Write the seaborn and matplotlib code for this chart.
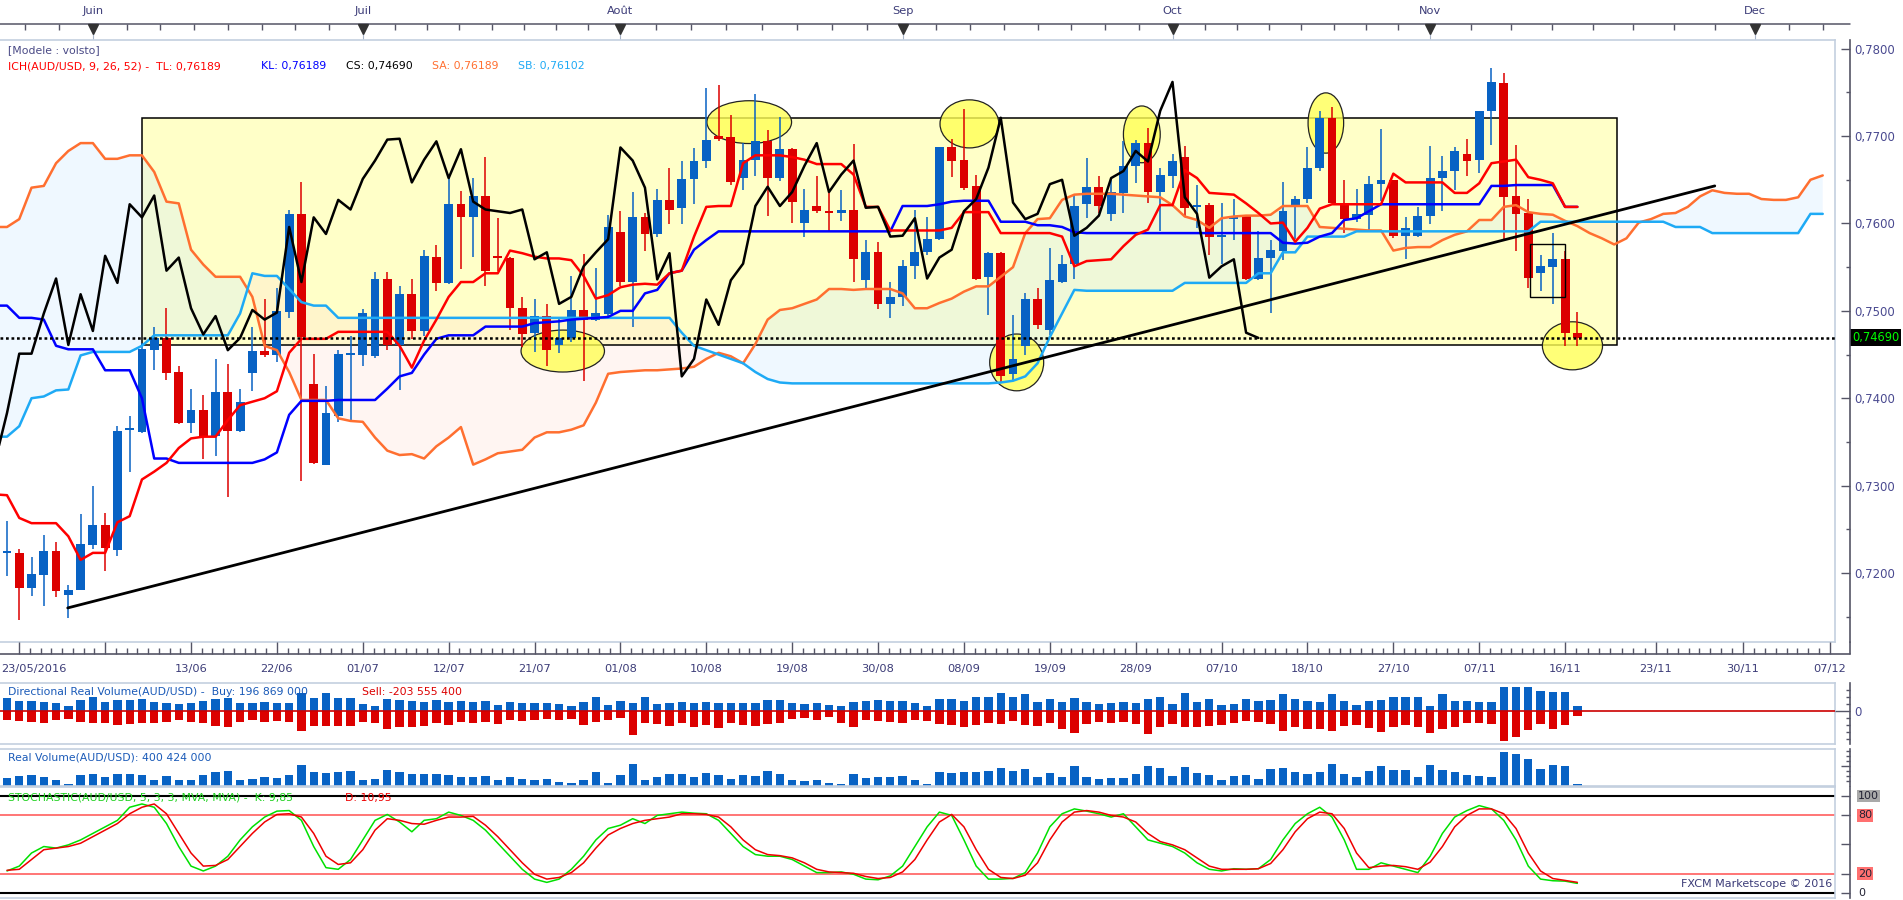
import numpy as np
import pandas as pd
import matplotlib
matplotlib.use("Agg")
import matplotlib.pyplot as plt
import matplotlib.transforms as mtransforms
from matplotlib.patches import Rectangle, Ellipse
import seaborn as sns

#-----------------------------------------------------------
# AUD/USD daily candles 23/05/2016 -> 17/11/2016
open_px = [
    0.7223, 0.7223, 0.7183, 0.7198, 0.7225, 0.7175, 0.7181, 0.7232, 0.7255, 0.7226,
    0.7364, 0.7361, 0.7455, 0.7469, 0.7430, 0.7372, 0.7387, 0.7357, 0.7407, 0.7362,
    0.7429, 0.7454, 0.7449, 0.7499, 0.7611, 0.7416, 0.7324, 0.7380, 0.7450, 0.7450,
    0.7448, 0.7537, 0.7461, 0.7519, 0.7477, 0.7562, 0.7532, 0.7622, 0.7607, 0.7632,
    0.7562, 0.7561, 0.7503, 0.7475, 0.7494, 0.7461, 0.7469, 0.7501, 0.7490, 0.7496,
    0.7590, 0.7533, 0.7607, 0.7588, 0.7627, 0.7618, 0.7651, 0.7671, 0.7700, 0.7699,
    0.7652, 0.7673, 0.7694, 0.7652, 0.7685, 0.7600, 0.7620, 0.7614, 0.7612, 0.7616,
    0.7535, 0.7567, 0.7508, 0.7516, 0.7551, 0.7567, 0.7582, 0.7687, 0.7673, 0.7643,
    0.7539, 0.7566, 0.7428, 0.7460, 0.7514, 0.7478, 0.7533, 0.7554, 0.7622, 0.7642,
    0.7611, 0.7635, 0.7666, 0.7692, 0.7636, 0.7654, 0.7676, 0.7619, 0.7621, 0.7585,
    0.7605, 0.7608, 0.7537, 0.7561, 0.7569, 0.7619, 0.7628, 0.7664, 0.7721, 0.7623,
    0.7605, 0.7610, 0.7645, 0.7650, 0.7586, 0.7586, 0.7608, 0.7652, 0.7660, 0.7680,
    0.7673, 0.7729, 0.7761, 0.7631, 0.7612, 0.7543, 0.7550, 0.7559, 0.7475]
high_px = [
    0.7260, 0.7228, 0.7218, 0.7243, 0.7235, 0.7186, 0.7267, 0.7299, 0.7269, 0.7368,
    0.7380, 0.7463, 0.7482, 0.7503, 0.7437, 0.7410, 0.7404, 0.7445, 0.7439, 0.7410,
    0.7481, 0.7513, 0.7526, 0.7615, 0.7647, 0.7451, 0.7414, 0.7455, 0.7471, 0.7502,
    0.7545, 0.7544, 0.7529, 0.7537, 0.7570, 0.7575, 0.7656, 0.7637, 0.7652, 0.7676,
    0.7606, 0.7562, 0.7516, 0.7513, 0.7508, 0.7492, 0.7540, 0.7565, 0.7549, 0.7610,
    0.7614, 0.7636, 0.7612, 0.7639, 0.7664, 0.7672, 0.7686, 0.7755, 0.7759, 0.7724,
    0.7692, 0.7748, 0.7707, 0.7722, 0.7686, 0.7639, 0.7654, 0.7635, 0.7638, 0.7691,
    0.7581, 0.7579, 0.7533, 0.7558, 0.7615, 0.7607, 0.7687, 0.7697, 0.7731, 0.7656,
    0.7567, 0.7567, 0.7495, 0.7520, 0.7526, 0.7572, 0.7564, 0.7633, 0.7675, 0.7654,
    0.7650, 0.7694, 0.7696, 0.7709, 0.7663, 0.7680, 0.7689, 0.7644, 0.7623, 0.7623,
    0.7628, 0.7609, 0.7591, 0.7581, 0.7648, 0.7631, 0.7688, 0.7729, 0.7733, 0.7650,
    0.7639, 0.7654, 0.7708, 0.7650, 0.7607, 0.7619, 0.7689, 0.7677, 0.7687, 0.7697,
    0.7729, 0.7778, 0.7772, 0.7690, 0.7628, 0.7564, 0.7589, 0.7569, 0.7499]
low_px = [
    0.7196, 0.7146, 0.7174, 0.7162, 0.7173, 0.7149, 0.7181, 0.7228, 0.7202, 0.7219,
    0.7316, 0.7360, 0.7432, 0.7421, 0.7371, 0.7360, 0.7331, 0.7334, 0.7287, 0.7361,
    0.7408, 0.7447, 0.7442, 0.7492, 0.7305, 0.7325, 0.7324, 0.7373, 0.7373, 0.7437,
    0.7446, 0.7455, 0.7409, 0.7468, 0.7471, 0.7523, 0.7531, 0.7548, 0.7562, 0.7528,
    0.7546, 0.7478, 0.7459, 0.7453, 0.7437, 0.7452, 0.7464, 0.7420, 0.7488, 0.7493,
    0.7529, 0.7482, 0.7569, 0.7585, 0.7599, 0.7599, 0.7622, 0.7663, 0.7694, 0.7644,
    0.7638, 0.7654, 0.7609, 0.7649, 0.7600, 0.7585, 0.7612, 0.7590, 0.7603, 0.7533,
    0.7525, 0.7502, 0.7492, 0.7505, 0.7537, 0.7564, 0.7581, 0.7653, 0.7638, 0.7535,
    0.7495, 0.7418, 0.7420, 0.7450, 0.7479, 0.7472, 0.7532, 0.7537, 0.7606, 0.7612,
    0.7603, 0.7612, 0.7646, 0.7624, 0.7591, 0.7641, 0.7609, 0.7595, 0.7564, 0.7554,
    0.7581, 0.7535, 0.7535, 0.7497, 0.7558, 0.7582, 0.7624, 0.7660, 0.7623, 0.7589,
    0.7602, 0.7590, 0.7626, 0.7583, 0.7559, 0.7584, 0.7599, 0.7614, 0.7638, 0.7654,
    0.7658, 0.7690, 0.7581, 0.7569, 0.7526, 0.7523, 0.7508, 0.7460, 0.7460]
close_px = [
    0.7224, 0.7183, 0.7199, 0.7225, 0.7179, 0.7181, 0.7233, 0.7255, 0.7229, 0.7362,
    0.7366, 0.7456, 0.7469, 0.7429, 0.7372, 0.7387, 0.7356, 0.7407, 0.7362, 0.7396,
    0.7454, 0.7449, 0.7500, 0.7611, 0.7470, 0.7326, 0.7383, 0.7451, 0.7451, 0.7497,
    0.7537, 0.7461, 0.7519, 0.7477, 0.7563, 0.7532, 0.7622, 0.7607, 0.7632, 0.7546,
    0.7561, 0.7503, 0.7473, 0.7494, 0.7455, 0.7469, 0.7501, 0.7490, 0.7498, 0.7596,
    0.7533, 0.7607, 0.7588, 0.7627, 0.7616, 0.7651, 0.7672, 0.7696, 0.7697, 0.7647,
    0.7673, 0.7694, 0.7652, 0.7685, 0.7625, 0.7616, 0.7614, 0.7612, 0.7616, 0.7559,
    0.7567, 0.7508, 0.7516, 0.7551, 0.7567, 0.7582, 0.7687, 0.7672, 0.7641, 0.7536,
    0.7566, 0.7425, 0.7445, 0.7513, 0.7484, 0.7535, 0.7554, 0.7620, 0.7642, 0.7620,
    0.7636, 0.7666, 0.7692, 0.7636, 0.7656, 0.7672, 0.7618, 0.7619, 0.7585, 0.7586,
    0.7606, 0.7537, 0.7561, 0.7570, 0.7614, 0.7628, 0.7664, 0.7721, 0.7624, 0.7605,
    0.7611, 0.7645, 0.7650, 0.7586, 0.7595, 0.7609, 0.7652, 0.7660, 0.7683, 0.7671,
    0.7729, 0.7762, 0.7630, 0.7611, 0.7538, 0.7551, 0.7559, 0.7475, 0.7469]

# ichimoku lines, first value is one bar left of 23/05
tenkan = [
    0.7290, 0.7289, 0.7263, 0.7257, 0.7257, 0.7257, 0.7242, 0.7215, 0.7223, 0.7223,
    0.7258, 0.7265, 0.7307, 0.7316, 0.7326, 0.7343, 0.7354, 0.7356, 0.7356, 0.7375,
    0.7392, 0.7396, 0.7400, 0.7408, 0.7452, 0.7468, 0.7468, 0.7468, 0.7476, 0.7476,
    0.7476, 0.7476, 0.7476, 0.7460, 0.7435, 0.7466, 0.7490, 0.7516, 0.7533, 0.7533,
    0.7543, 0.7543, 0.7569, 0.7566, 0.7562, 0.7560, 0.7560, 0.7558, 0.7540, 0.7514,
    0.7518, 0.7527, 0.7530, 0.7531, 0.7530, 0.7543, 0.7546, 0.7585, 0.7619, 0.7620,
    0.7620, 0.7669, 0.7678, 0.7678, 0.7678, 0.7676, 0.7673, 0.7668, 0.7668, 0.7668,
    0.7656, 0.7619, 0.7619, 0.7592, 0.7592, 0.7592, 0.7592, 0.7592, 0.7595, 0.7613,
    0.7613, 0.7613, 0.7589, 0.7589, 0.7589, 0.7589, 0.7589, 0.7585, 0.7551, 0.7557,
    0.7558, 0.7559, 0.7574, 0.7587, 0.7593, 0.7621, 0.7621, 0.7661, 0.7652, 0.7635,
    0.7634, 0.7633, 0.7623, 0.7612, 0.7600, 0.7601, 0.7579, 0.7595, 0.7617, 0.7622,
    0.7622, 0.7622, 0.7622, 0.7622, 0.7657, 0.7647, 0.7647, 0.7647, 0.7647, 0.7635,
    0.7635, 0.7646, 0.7669, 0.7671, 0.7673, 0.7653, 0.7650, 0.7646, 0.7619, 0.7619]
kijun = [
    0.7506, 0.7506, 0.7492, 0.7492, 0.7490, 0.7460, 0.7456, 0.7456, 0.7456, 0.7432,
    0.7432, 0.7432, 0.7400, 0.7331, 0.7331, 0.7326, 0.7326, 0.7326, 0.7326, 0.7326,
    0.7326, 0.7326, 0.7330, 0.7338, 0.7381, 0.7397, 0.7397, 0.7397, 0.7398, 0.7398,
    0.7398, 0.7398, 0.7411, 0.7425, 0.7429, 0.7450, 0.7468, 0.7472, 0.7472, 0.7472,
    0.7482, 0.7482, 0.7482, 0.7482, 0.7486, 0.7487, 0.7488, 0.7490, 0.7491, 0.7492,
    0.7493, 0.7500, 0.7500, 0.7520, 0.7524, 0.7543, 0.7546, 0.7570, 0.7581, 0.7591,
    0.7591, 0.7591, 0.7591, 0.7591, 0.7591, 0.7591, 0.7591, 0.7591, 0.7591, 0.7591,
    0.7591, 0.7591, 0.7591, 0.7591, 0.7620, 0.7620, 0.7620, 0.7622, 0.7625, 0.7626,
    0.7626, 0.7626, 0.7602, 0.7602, 0.7602, 0.7598, 0.7598, 0.7596, 0.7590, 0.7589,
    0.7589, 0.7589, 0.7589, 0.7589, 0.7589, 0.7589, 0.7589, 0.7589, 0.7589, 0.7589,
    0.7589, 0.7589, 0.7589, 0.7589, 0.7589, 0.7578, 0.7577, 0.7578, 0.7585, 0.7589,
    0.7604, 0.7606, 0.7614, 0.7622, 0.7622, 0.7622, 0.7622, 0.7622, 0.7622, 0.7622,
    0.7622, 0.7622, 0.7643, 0.7643, 0.7644, 0.7644, 0.7644, 0.7644, 0.7619, 0.7619]
# the two spans run 20 bars past the last candle
span_a = [
    0.7596, 0.7596, 0.7605, 0.7641, 0.7643, 0.7669, 0.7683, 0.7692, 0.7692, 0.7674,
    0.7674, 0.7678, 0.7678, 0.7659, 0.7625, 0.7623, 0.7570, 0.7553, 0.7539, 0.7539,
    0.7539, 0.7516, 0.7460, 0.7455, 0.7430, 0.7398, 0.7398, 0.7398, 0.7377, 0.7374,
    0.7373, 0.7355, 0.7340, 0.7335, 0.7336, 0.7331, 0.7345, 0.7355, 0.7367, 0.7324,
    0.7330, 0.7337, 0.7339, 0.7341, 0.7355, 0.7361, 0.7361, 0.7364, 0.7369, 0.7395,
    0.7428, 0.7430, 0.7431, 0.7432, 0.7432, 0.7433, 0.7434, 0.7436, 0.7445, 0.7452,
    0.7448, 0.7440, 0.7462, 0.7490, 0.7501, 0.7503, 0.7508, 0.7513, 0.7525, 0.7525,
    0.7524, 0.7525, 0.7525, 0.7525, 0.7520, 0.7503, 0.7503, 0.7509, 0.7514, 0.7522,
    0.7528, 0.7528, 0.7539, 0.7550, 0.7589, 0.7605, 0.7606, 0.7627, 0.7633, 0.7634,
    0.7634, 0.7634, 0.7633, 0.7632, 0.7631, 0.7630, 0.7621, 0.7608, 0.7604, 0.7595,
    0.7606, 0.7608, 0.7609, 0.7609, 0.7610, 0.7620, 0.7620, 0.7620, 0.7596, 0.7595,
    0.7594, 0.7593, 0.7592, 0.7592, 0.7569, 0.7572, 0.7573, 0.7573, 0.7581, 0.7587,
    0.7591, 0.7604, 0.7604, 0.7619, 0.7621, 0.7613, 0.7611, 0.7610, 0.7603, 0.7597,
    0.7589, 0.7583, 0.7576, 0.7583, 0.7601, 0.7605, 0.7611, 0.7612, 0.7619, 0.7631,
    0.7638, 0.7635, 0.7634, 0.7634, 0.7628, 0.7627, 0.7627, 0.7630, 0.7650, 0.7655]
span_b = [
    0.7356, 0.7356, 0.7368, 0.7400, 0.7402, 0.7409, 0.7410, 0.7449, 0.7453, 0.7453,
    0.7453, 0.7453, 0.7460, 0.7472, 0.7472, 0.7472, 0.7472, 0.7472, 0.7472, 0.7472,
    0.7497, 0.7543, 0.7540, 0.7540, 0.7525, 0.7510, 0.7506, 0.7506, 0.7492, 0.7492,
    0.7492, 0.7492, 0.7492, 0.7492, 0.7492, 0.7492, 0.7492, 0.7492, 0.7492, 0.7492,
    0.7492, 0.7492, 0.7492, 0.7492, 0.7492, 0.7492, 0.7492, 0.7492, 0.7492, 0.7492,
    0.7492, 0.7492, 0.7492, 0.7492, 0.7492, 0.7492, 0.7475, 0.7460, 0.7455, 0.7450,
    0.7445, 0.7440, 0.7430, 0.7422, 0.7418, 0.7417, 0.7417, 0.7417, 0.7417, 0.7417,
    0.7417, 0.7417, 0.7417, 0.7417, 0.7417, 0.7417, 0.7417, 0.7417, 0.7417, 0.7417,
    0.7417, 0.7417, 0.7418, 0.7420, 0.7425, 0.7440, 0.7470, 0.7497, 0.7524, 0.7523,
    0.7523, 0.7523, 0.7523, 0.7523, 0.7523, 0.7523, 0.7523, 0.7532, 0.7532, 0.7532,
    0.7532, 0.7532, 0.7532, 0.7543, 0.7543, 0.7567, 0.7567, 0.7585, 0.7585, 0.7585,
    0.7585, 0.7591, 0.7591, 0.7591, 0.7591, 0.7591, 0.7591, 0.7591, 0.7591, 0.7591,
    0.7591, 0.7591, 0.7591, 0.7591, 0.7591, 0.7591, 0.7602, 0.7602, 0.7602, 0.7602,
    0.7602, 0.7602, 0.7602, 0.7602, 0.7602, 0.7602, 0.7602, 0.7596, 0.7596, 0.7596,
    0.7589, 0.7589, 0.7589, 0.7589, 0.7589, 0.7589, 0.7589, 0.7589, 0.7611, 0.7611]

# volume panels, millions
buy_vol = [
    494, 390, 390, 364, 299, 195, 429, 559, 364, 429, 429, 481, 364, 299, 273, 299,
    403, 455, 494, 299, 325, 364, 325, 299, 689, 494, 689, 494, 494, 273, 195, 455,
    429, 403, 351, 429, 351, 403, 351, 403, 234, 351, 325, 299, 325, 273, 195, 351,
    533, 234, 403, 325, 559, 273, 325, 351, 299, 364, 325, 325, 325, 299, 429, 429,
    299, 273, 299, 221, 195, 351, 377, 429, 403, 377, 325, 195, 481, 455, 403, 533,
    559, 715, 533, 650, 351, 455, 351, 507, 351, 273, 299, 351, 299, 455, 559, 273,
    715, 351, 455, 221, 273, 455, 377, 429, 663, 455, 377, 351, 663, 377, 221, 377,
    429, 559, 559, 559, 195, 663, 403, 377, 351, 351, 949, 949, 949, 793, 741, 741,
    196.9]
sell_vol = [
    351, 377, 416, 455, 351, 299, 416, 455, 481, 546, 507, 481, 455, 429, 351, 416,
    481, 585, 611, 416, 351, 416, 377, 416, 767, 585, 585, 585, 585, 416, 481, 715,
    637, 637, 585, 481, 546, 416, 455, 429, 507, 351, 377, 351, 325, 351, 325, 546,
    416, 351, 286, 936, 481, 507, 585, 481, 611, 546, 676, 481, 546, 585, 507, 455,
    325, 286, 351, 221, 455, 611, 351, 377, 416, 455, 351, 377, 507, 546, 637, 559,
    455, 507, 377, 546, 585, 455, 715, 845, 507, 429, 455, 429, 507, 897, 637, 507,
    637, 637, 585, 559, 481, 377, 429, 507, 767, 637, 689, 715, 793, 585, 559, 676,
    806, 637, 546, 637, 845, 715, 611, 481, 455, 507, 1157, 1027, 741, 507, 689, 546,
    203.6]
real_vol = [
    2000, 2320, 2560, 2160, 1360, 400, 2560, 2800, 2160, 2960, 2960, 2560, 1520, 2320, 1520, 1520,
    2560, 3360, 3600, 1520, 1760, 2160, 2000, 2560, 4960, 3360, 3120, 3360, 3600, 1520, 1760, 3760,
    3360, 2960, 2960, 2960, 2560, 2160, 2160, 2320, 1360, 2160, 1760, 1520, 1760, 960, 720, 1360,
    3360, 720, 2560, 5200, 1520, 2160, 2800, 2960, 2160, 3120, 2560, 1760, 2560, 2320, 3600, 2800,
    1360, 1200, 1520, 720, 560, 2800, 2000, 2160, 2160, 2320, 1520, 400, 3280, 3120, 3360, 3280,
    3600, 4320, 3600, 4160, 2160, 3120, 2160, 4720, 2160, 1760, 2000, 2000, 2960, 4720, 4400, 2320,
    4560, 3120, 2560, 1520, 2320, 2560, 1760, 4160, 4320, 3360, 2800, 3360, 5200, 2960, 2160, 3600,
    4720, 3920, 3760, 2160, 4960, 3760, 3360, 2560, 2320, 2160, 8160, 7600, 6560, 4160, 5040, 4720,
    400.4]

# stochastic 5,3,3
stoch_k = [
    22.7, 27.7, 41.2, 47.9, 46.3, 49.6, 54.7, 61.4, 68.2, 74.9, 88.4, 91.8, 88.4, 71.6, 47.9, 27.7,
    22.7, 27.7, 37.9, 54.7, 68.2, 78.3, 84.4, 85.0, 74.9, 47.9, 26.1, 24.4, 34.5, 54.7, 74.9, 81.0,
    73.2, 63.1, 74.9, 76.6, 83.4, 80.0, 74.9, 64.8, 51.3, 37.9, 24.4, 14.3, 10.9, 14.3, 24.4, 37.9,
    54.7, 66.5, 69.9, 76.6, 71.6, 80.0, 81.7, 83.4, 82.3, 81.7, 74.9, 61.4, 47.9, 39.6, 37.9, 37.9,
    34.5, 27.7, 21.0, 21.0, 21.7, 19.3, 14.3, 13.6, 17.6, 27.7, 47.9, 68.2, 83.4, 80.0, 54.7, 27.7,
    14.3, 14.3, 15.0, 21.0, 41.2, 68.2, 81.7, 86.7, 84.4, 81.7, 78.3, 81.7, 68.2, 54.7, 51.3, 47.9,
    41.2, 31.1, 24.4, 22.7, 25.0, 24.4, 25.0, 34.5, 54.7, 71.6, 81.7, 88.4, 78.3, 54.7, 24.4, 24.4,
    31.1, 27.7, 24.4, 21.0, 37.9, 61.4, 78.3, 85.0, 90.1, 86.7, 74.9, 54.7, 27.7, 14.3, 12.6, 12.2,
    9.85]
stoch_d = [
    23.4, 24.4, 34.5, 44.6, 46.3, 47.9, 51.3, 58.1, 64.8, 71.6, 81.7, 88.4, 91.8, 81.7, 61.4, 41.2,
    27.7, 28.4, 34.5, 47.9, 61.4, 73.2, 81.0, 81.7, 78.3, 61.4, 37.9, 29.4, 31.1, 44.6, 64.8, 76.6,
    74.9, 71.6, 70.9, 74.9, 78.3, 78.3, 79.0, 69.9, 58.1, 44.6, 31.1, 19.3, 14.3, 16.0, 21.0, 31.1,
    46.3, 59.8, 66.5, 71.6, 74.9, 76.6, 78.3, 81.7, 81.7, 81.0, 78.3, 68.2, 54.7, 44.6, 39.6, 38.5,
    36.2, 31.1, 24.4, 21.7, 21.0, 20.3, 17.0, 14.9, 16.0, 21.7, 34.5, 54.7, 73.2, 81.0, 68.2, 44.6,
    24.4, 16.0, 14.9, 18.3, 31.1, 54.7, 73.2, 83.4, 85.0, 83.4, 80.0, 78.3, 73.2, 61.4, 53.0, 49.6,
    44.6, 36.2, 27.7, 24.4, 24.4, 24.4, 25.0, 30.4, 44.6, 63.1, 76.6, 83.4, 81.7, 66.5, 41.2, 26.1,
    27.7, 28.4, 27.1, 24.4, 31.8, 47.9, 68.2, 80.0, 86.7, 86.7, 81.7, 66.5, 41.2, 22.7, 14.9, 12.9,
    10.95]

# hand drawn marks on the chart (bar index, price)
box_x = [10.98, 131.2]
box_y = [0.7461, 0.7721]
trend_x = [4.95, 139.2]
trend_y = [0.7160, 0.7643]
ellipses = [(45.3, 0.7454, 6.8, 0.0048), (60.5, 0.7716, 6.9, 0.0049),
            (78.45, 0.7714, 4.8, 0.0055), (82.3, 0.7441, 4.4, 0.0065),
            (92.5, 0.7702, 3.0, 0.0065), (107.5, 0.7715, 2.9, 0.0069),
            (127.6, 0.7460, 4.9, 0.0055)]
bracket = [124.1, 0.7516, 2.9, 0.0061]

label_days = ['2016-05-23', '2016-06-13', '2016-06-22', '2016-07-01', '2016-07-12',
              '2016-07-21', '2016-08-01', '2016-08-10', '2016-08-19', '2016-08-30',
              '2016-09-08', '2016-09-19', '2016-09-28', '2016-10-07', '2016-10-18',
              '2016-10-27', '2016-11-07', '2016-11-16']
future_labels = ['23/11', '30/11', '07/12']
future_pos = [134.4, 141.5, 148.6]
month_names = ['Juin', 'Juil', 'Août', 'Sep', 'Oct', 'Nov', 'Dec']
#-----------------------------------------------------------

for name, arr, ln in [('o', open_px, 129), ('h', high_px, 129), ('l', low_px, 129),
                      ('c', close_px, 129), ('tk', tenkan, 130), ('kj', kijun, 130),
                      ('sa', span_a, 150), ('sb', span_b, 150), ('buy', buy_vol, 129),
                      ('sell', sell_vol, 129), ('rv', real_vol, 129), ('k', stoch_k, 129),
                      ('d', stoch_d, 129)]:
    assert len(arr) == ln, (name, len(arr))

sns.set_style("white")
plt.rcParams['font.family'] = ['DejaVu Sans']

UP, DOWN = '#0862c4', '#dc0000'
FRAME = '#c3cfdf'
AXIS = '#555566'
TXT = '#3c3c78'

o, h, l, c = (np.array(v) for v in (open_px, high_px, low_px, close_px))
n = len(c)
dates = pd.bdate_range('2016-05-23', periods=n)
bars = np.arange(n)

W, H = 1903, 900
PW = 1835
fig = plt.figure(figsize=(W / 100, H / 100), dpi=100)


def panel(y0, y1):
    return fig.add_axes([0, 1 - y1 / H, PW / W, (y1 - y0) / H])


ax_top = panel(0, 40)
ax = panel(40, 642)
ax_dt = panel(642, 683)
ax_dv = panel(683, 744)
ax_rv = panel(749, 786)
ax_st = panel(787, 898)
XL = (-0.57, 149.0)
for a in (ax_top, ax, ax_dt, ax_dv, ax_rv, ax_st):
    a.set_xlim(*XL)
    a.set_xticks([])
    a.set_yticks([])
for a in (ax, ax_dv, ax_rv, ax_st):
    for s in a.spines.values():
        s.set_color(FRAME)
        s.set_linewidth(1.2)
    a.spines['left'].set_visible(False)


def right_scale(a, lims, major, labels=None, minor=(), major_len=6.5):
    r = a.twinx()
    r.set_ylim(*lims)
    for s in ('top', 'left', 'bottom'):
        r.spines[s].set_visible(False)
    r.spines['right'].set_position(('outward', 11))
    r.spines['right'].set_color(AXIS)
    r.spines['right'].set_linewidth(1.2)
    r.set_yticks(major)
    r.set_yticklabels(labels if labels is not None else [''] * len(major))
    r.set_yticks(list(minor), minor=True)
    r.tick_params(axis='y', which='major', direction='in', length=major_len, width=1,
                  color=AXIS, labelsize=8.5, labelcolor='#4a4a90', pad=3)
    r.tick_params(axis='y', which='minor', direction='in', length=3.2, width=1, color=AXIS)
    return r


# ---------------- main price panel ----------------
YL = (0.7121, 0.7810)
ax.set_ylim(*YL)
ax.add_patch(Rectangle((box_x[0], box_y[0]), box_x[1] - box_x[0], box_y[1] - box_y[0],
                       fc='#ffffc8', ec='none', zorder=1))
xs = np.arange(-1, len(span_a) - 1)
sa, sb = np.array(span_a), np.array(span_b)
ax.fill_between(xs, sa, sb, where=sa >= sb, interpolate=True,
                color=(205 / 255, 232 / 255, 1.0), alpha=0.3, lw=0, zorder=2)
ax.fill_between(xs, sa, sb, where=sa < sb, interpolate=True,
                color=(1.0, 222 / 255, 212 / 255), alpha=0.3, lw=0, zorder=2)
ax.add_patch(Rectangle((box_x[0], box_y[0]), box_x[1] - box_x[0], box_y[1] - box_y[0],
                       fc='none', ec='black', lw=1.1, zorder=3))
for ex, ey, ew, eh in ellipses:
    ax.add_patch(Ellipse((ex, ey), ew, eh, fc='#ffff55', alpha=0.8, ec='none', zorder=4))
    ax.add_patch(Ellipse((ex, ey), ew, eh, fc='none', ec='#222222', lw=0.9, zorder=4))

col = np.where(c >= o, UP, DOWN)
ax.vlines(bars, l, h, colors=col, lw=1.1, zorder=5)
ax.bar(bars, np.maximum(np.abs(c - o), 0.00022), bottom=np.minimum(o, c), width=0.72,
       color=col, lw=0, zorder=5)

xl = np.arange(-1, n)
sns.lineplot(x=xs, y=sa, ax=ax, color='#ff6f30', linewidth=1.8, zorder=6)
sns.lineplot(x=xs, y=sb, ax=ax, color='#1eaaf5', linewidth=1.8, zorder=6)
sns.lineplot(x=xl, y=np.array(kijun), ax=ax, color='#0000ff', linewidth=1.8, zorder=6)
sns.lineplot(x=xl, y=np.array(tenkan), ax=ax, color='#ff0000', linewidth=1.8, zorder=6)
sns.lineplot(x=np.arange(-1, n - 26), y=c[25:], ax=ax, color='black', linewidth=1.8, zorder=6)

ax.plot(trend_x, trend_y, color='black', lw=2.0, zorder=7)
ax.add_patch(Rectangle((bracket[0], bracket[1]), bracket[2], bracket[3],
                       fc='none', ec='black', lw=1.0, zorder=7))
ax.axhline(c[-1], color='black', lw=1.8, ls=(0, (1.1, 1.1)), zorder=7)
ax.set_xlim(*XL)
ax.set_ylim(*YL)
ax.set_xlabel('')
ax.set_ylabel('')

ticks = [0.72, 0.73, 0.74, 0.75, 0.76, 0.77, 0.78]
r_main = right_scale(ax, YL, ticks, [f"{t:.4f}".replace('.', ',') for t in ticks],
                     minor=[0.715, 0.725, 0.735, 0.745, 0.755, 0.765, 0.775])
blend_main = mtransforms.blended_transform_factory(ax.transAxes, ax.transData)
ax.text(1.0092, c[-1], f"{c[-1]:.5f}".replace('.', ','), transform=blend_main,
        color='#00ff00', fontsize=8.3, va='center', ha='left', clip_on=False, zorder=10,
        bbox=dict(fc='black', ec='none', pad=1.4))

fig.text(8 / W, 1 - 50 / H, '[Modele : volsto]', color='#4a4a86', fontsize=7.8, va='center')
for x_px, s, colr in [(8, 'ICH(AUD/USD, 9, 26, 52) -  TL: 0,76189', '#ff0000'),
                      (261, 'KL: 0,76189', '#0000ff'),
                      (346, 'CS: 0,74690', 'black'),
                      (432, 'SA: 0,76189', '#ff6f30'),
                      (518, 'SB: 0,76102', '#1eaaf5')]:
    fig.text(x_px / W, 1 - 66.5 / H, s, color=colr, fontsize=7.8, va='center')

# ---------------- month ruler on top ----------------
ax_top.set_ylim(40, 0)
ax_top.axis('off')
edge = 1 + 15 / PW
bt = mtransforms.blended_transform_factory(ax_top.transAxes, ax_top.transData)
ax_top.plot([0, edge], [24, 24], color=AXIS, lw=1.1, transform=bt, clip_on=False)
first_days = [dates.get_indexer([d])[0] for d in
              [dates[dates.month == m][0] for m in (6, 7, 8, 9, 10, 11)]]
month_pos = first_days + [142.5]
sub = [month_pos[0] - 2.75 * k for k in (2, 1)]
for m0, m1 in zip(month_pos[:-1], month_pos[1:]):
    sub += list(np.linspace(m0, m1, 9)[:-1])
sub += [month_pos[-1] + 2.75 * k for k in range(0, 3)]
ax_top.vlines(sub, 24, 30, color=AXIS, lw=1)
ax_top.vlines(month_pos, 24, 40, color='#a8b4c8', lw=0.8)
ax_top.plot(month_pos, [28.5] * len(month_pos), ls='none', marker='v', ms=7, color='#333333')
for p, name in zip(month_pos, month_names):
    ax_top.text(p, 11, name, ha='center', va='center', fontsize=8.2, color=TXT)

# ---------------- date ruler ----------------
ax_dt.set_ylim(683, 642)
ax_dt.axis('off')
bd = mtransforms.blended_transform_factory(ax_dt.transAxes, ax_dt.transData)
ax_dt.plot([0, edge], [654, 654], color=AXIS, lw=1.2, transform=bd, clip_on=False)
ax_dt.plot([edge, edge], [642, 654], color=AXIS, lw=1.2, transform=bd, clip_on=False)
lab_pos = [dates.get_indexer([pd.Timestamp(d)])[0] for d in label_days]
lab_txt = ['23/05/2016'] + [pd.Timestamp(d).strftime('%d/%m') for d in label_days[1:]]
lab_pos_all = [1, 8] + lab_pos[1:] + future_pos
ax_dt.vlines(lab_pos_all, 642, 654, color=AXIS, lw=1)
minor_dt = []
for m0, m1 in zip(lab_pos_all[:-1], lab_pos_all[1:]):
    minor_dt += list(np.linspace(m0, m1, 9)[1:-1])
ax_dt.vlines(minor_dt, 648.5, 654, color=AXIS, lw=1)
ax_dt.text(-0.5, 669, lab_txt[0], ha='left', va='center', fontsize=8.2, color=TXT)
for p, s in zip(lab_pos[1:] + future_pos, lab_txt[1:] + future_labels):
    ax_dt.text(p, 669, s, ha='center', va='center', fontsize=8.2, color=TXT, clip_on=False)

# ---------------- directional real volume ----------------
DV = (-1290, 1090)
ax_dv.set_ylim(*DV)
ax_dv.bar(bars, buy_vol, width=0.68, color=UP, lw=0, zorder=2)
ax_dv.bar(bars, -np.array(sell_vol), width=0.68, color=DOWN, lw=0, zorder=2)
ax_dv.axhline(0, color='#cc0000', lw=1.2, zorder=3)
right_scale(ax_dv, DV, [0], ['0'], minor=[-1080, -810, -540, -270, 270, 540, 810],
            major_len=10.8)
fig.text(8 / W, 1 - 692 / H, 'Directional Real Volume(AUD/USD) -  Buy: 196 869 000',
         color='#1a5ab8', fontsize=7.8, va='center')
fig.text(362 / W, 1 - 692 / H, 'Sell: -203 555 400', color='#dc0000', fontsize=7.8,
         va='center')

# ---------------- real volume ----------------
RV = (0, 8880)
ax_rv.set_ylim(*RV)
ax_rv.bar(bars, real_vol, width=0.68, color=UP, lw=0)
right_scale(ax_rv, RV, [4800], None, minor=[1200, 2400, 3600, 6000, 7200, 8400])
fig.text(8 / W, 1 - 758 / H, 'Real Volume(AUD/USD): 400 424 000', color='#1a5ab8',
         fontsize=7.8, va='center')

# ---------------- stochastic ----------------
SL = (-5.2, 109.3)
ax_st.set_ylim(*SL)
ax_st.axhline(100, color='black', lw=1.5)
ax_st.axhline(0, color='black', lw=1.5)
ax_st.axhline(80, color='#ff5050', lw=1.1)
ax_st.axhline(20, color='#ff5050', lw=1.1)
sns.lineplot(x=bars, y=np.array(stoch_k), ax=ax_st, color='#00e000', linewidth=1.1)
sns.lineplot(x=bars, y=np.array(stoch_d), ax=ax_st, color='#ee0000', linewidth=1.1)
ax_st.set_xlim(*XL)
ax_st.set_ylim(*SL)
ax_st.set_xlabel('')
ax_st.set_ylabel('')
right_scale(ax_st, SL, [0, 20, 50, 80, 100], None)
bs = mtransforms.blended_transform_factory(ax_st.transAxes, ax_st.transData)
for v, bg in [(100, '#a9a9a9'), (80, '#ff7070'), (20, '#ff7070'), (0, None)]:
    kw = dict(bbox=dict(fc=bg, ec='none', pad=1.0)) if bg else {}
    ax_st.text(1.0125, v, str(v), transform=bs, fontsize=8, color='#222233', va='center',
               ha='left', clip_on=False, zorder=10, **kw)
fig.text(8 / W, 1 - 798 / H, 'STOCHASTIC(AUD/USD, 5, 3, 3, MVA, MVA) -  K: 9,85',
         color='#1fd11f', fontsize=7.8, va='center')
fig.text(345 / W, 1 - 798 / H, 'D: 10,95', color='#ee0000', fontsize=7.8, va='center')
fig.text(1832 / W, 1 - 884 / H, 'FXCM Marketscope © 2016', ha='right', va='center',
         fontsize=8, color=TXT)

fig.savefig('out.png', dpi=100)
